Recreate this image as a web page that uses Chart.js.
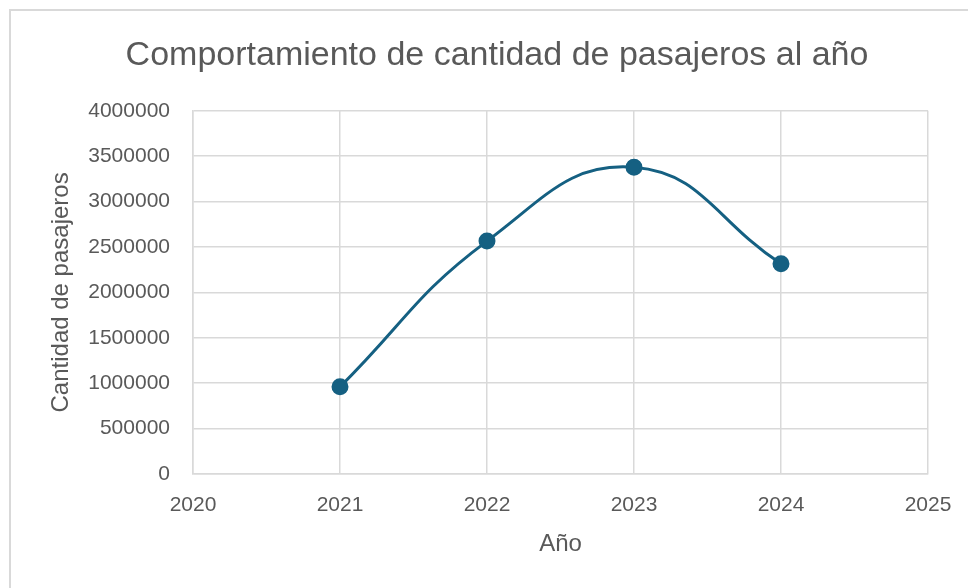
<!DOCTYPE html>
<html>
<head>
<meta charset="utf-8">
<script src="https://cdn.jsdelivr.net/npm/chart.js@4.4.1/dist/chart.umd.min.js"></script>
<style>
  html, body { margin: 0; padding: 0; background: #ffffff; overflow: hidden; }
  #frame { position: absolute; left: 9px; top: 9px; width: 980px; height: 600px; border: 2px solid #d9d9d9; box-sizing: border-box; }
  #wrap { position: absolute; left: 0; top: 0; width: 968px; height: 588px; }
</style>
</head>
<body>
<div id="frame"></div>
<div id="wrap"><canvas id="c" width="968" height="588"></canvas></div>
<script>
const chartTitle = "Comportamiento de cantidad de pasajeros al año";
const xAxisTitle = "Año";
const yAxisTitle = "Cantidad de pasajeros";
const years = [2021, 2022, 2023, 2024];
const passengers = [960000, 2565000, 3378000, 2315000];
const xMin = 2020, xMax = 2025, xStep = 1;
const yMin = 0, yMax = 4000000, yStep = 500000;

const textColor = "#595959";
const gridColor = "#d9d9d9";
const lineColor = "#156082";
const fontFamily = "'Liberation Sans', Arial, sans-serif";

const points = years.map((y, i) => ({ x: y, y: passengers[i] }));

new Chart(document.getElementById("c"), {
  type: "scatter",
  data: {
    datasets: [{
      data: points,
      showLine: true,
      tension: 0.45,
      borderColor: lineColor,
      borderWidth: 3,
      pointRadius: 7,
      pointHoverRadius: 7,
      pointBackgroundColor: lineColor,
      pointBorderColor: lineColor
    }]
  },
  options: {
    responsive: false,
    animation: false,
    layout: { padding: { left: 26, right: 0, top: 0, bottom: 29 } },
    plugins: {
      legend: { display: false },
      tooltip: { enabled: false },
      title: {
        display: true,
        text: chartTitle,
        color: textColor,
        font: { family: fontFamily, size: 34, weight: "normal" },
        padding: { top: 35, bottom: 35 }
      }
    },
    scales: {
      x: {
        type: "linear",
        min: xMin, max: xMax,
        grid: { color: gridColor, lineWidth: 1.5, drawTicks: false },
        border: { color: gridColor, width: 1.5 },
        ticks: {
          stepSize: xStep, color: textColor, padding: 19,
          font: { family: fontFamily, size: 21 },
          callback: v => String(v)
        },
        title: {
          display: true, text: xAxisTitle, color: textColor,
          font: { family: fontFamily, size: 24 },
          padding: { top: 0, bottom: 0 }
        },
        afterFit: s => { s.height = 85; s.paddingRight = 40; }
      },
      y: {
        type: "linear",
        min: yMin, max: yMax,
        grid: { color: gridColor, lineWidth: 1.5, drawTicks: false },
        border: { color: gridColor, width: 1.5 },
        ticks: {
          stepSize: yStep, color: textColor, padding: 23,
          font: { family: fontFamily, size: 21 },
          callback: v => String(v)
        },
        title: {
          display: true, text: yAxisTitle, color: textColor,
          font: { family: fontFamily, size: 24 },
          padding: { top: 21, bottom: 0 }
        },
        afterFit: s => { s.width = 167; }
      }
    }
  }
});
</script>
</body>
</html>
